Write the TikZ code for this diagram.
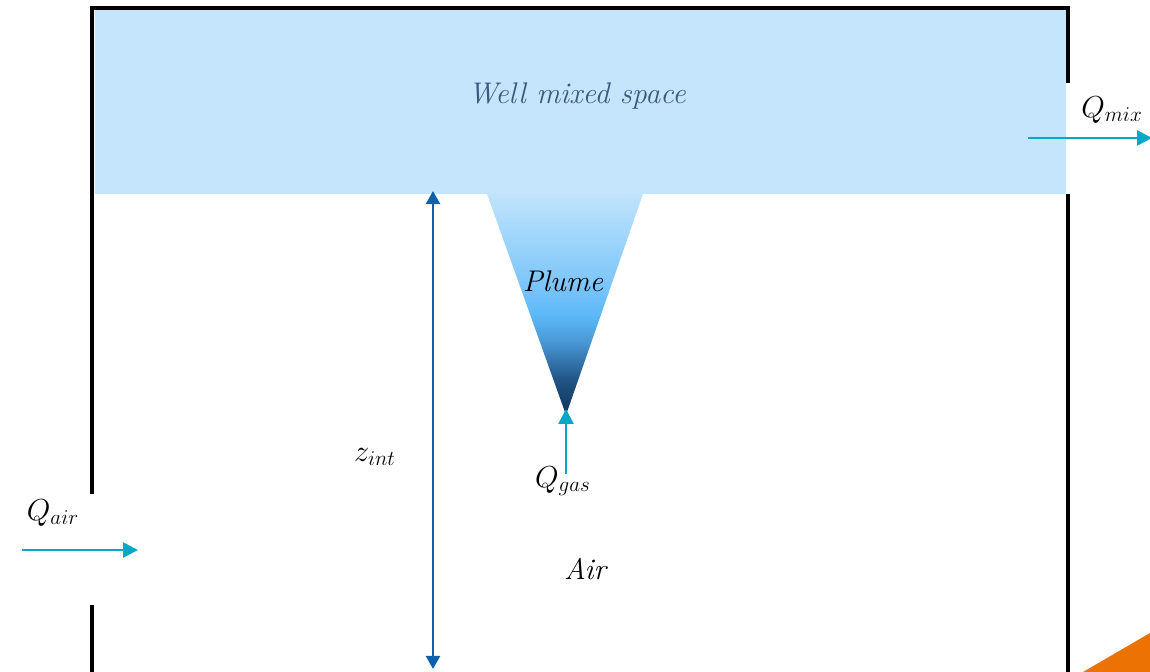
\documentclass[tikz,border=0pt]{standalone}
\usepackage{amsmath}
\usetikzlibrary{arrows.meta}
\definecolor{mixed}{RGB}{197,229,252}
\definecolor{flow}{RGB}{8,166,200}
\definecolor{height}{RGB}{12,98,170}
\definecolor{mixtext}{RGB}{58,88,125}
\definecolor{corner}{RGB}{236,114,4}
\pgfdeclareverticalshading{plumeshade}{100bp}{%
  color(0bp)=(rgb,255:red,12;green,52;blue,89);
  color(25bp)=(rgb,255:red,12;green,52;blue,89);
  color(33bp)=(rgb,255:red,32;green,85;blue,133);
  color(37.5bp)=(rgb,255:red,54;green,119;blue,176);
  color(42bp)=(rgb,255:red,74;green,155;blue,216);
  color(47.5bp)=(rgb,255:red,92;green,184;blue,248);
  color(55bp)=(rgb,255:red,126;green,198;blue,250);
  color(75bp)=(rgb,255:red,192;green,228;blue,251);
  color(100bp)=(rgb,255:red,192;green,228;blue,251)}

\begin{document}
\begin{tikzpicture}[
    x=0.02cm, y=-0.02cm,
    every node/.style={font=\fontsize{17}{20}\selectfont},
    wall/.style={line width=1.8pt, black},
    flowarrow/.style={-{Triangle[length=8.5pt, width=8.5pt]}, line width=1.5pt, color=flow},
    heightarrow/.style={{Triangle[length=7.5pt, width=8pt]}-{Triangle[length=7.5pt, width=8pt]}, line width=1.5pt, color=height},
]
\useasboundingbox (0,0) rectangle (1150,672);

% well mixed upper layer and plume
\fill[mixed] (95,9) rectangle (1066,194);
\shade[shading=plumeshade] (487,194) -- (643,194) -- (566,415) -- cycle;

% room walls (openings at the inlet and the outlet)
\draw[wall] (92,494) -- (92,8) -- (1068,8) -- (1068,83);
\draw[wall] (92,605) -- (92,672);
\draw[wall] (1068,194) -- (1068,672);

% corner mark
\fill[corner] (1083,672) -- (1150,633) -- (1150,672) -- cycle;

% text
\node[text=mixtext] (mix) at (577,96) {\itshape Well mixed space};
\node (plume) at (563,281) {\itshape Plume};
\node (air) at (585,569) {\itshape Air};

% flows
\coordinate (airin) at (22,550);
\coordinate (airend) at (138,550);
\coordinate (mixin) at (1028,138);
\coordinate (mixout) at (1152,138);
\coordinate (source) at (566,474);
\coordinate (apex) at (566,409);
\coordinate (ztop) at (433,191);
\coordinate (zbot) at (433,669);

\draw[flowarrow] (airin) -- (airend);
\draw[flowarrow] (mixin) -- (mixout);
\draw[flowarrow] (source) -- (apex);
\draw[heightarrow] (zbot) -- (ztop);

% flow labels
\node (qair) at (53,513) {$Q_{air}$};
\node (qmix) at (1112,110) {$Q_{mix}$};
\node (qgas) at (563,481) {$Q_{gas}$};
\node (zint) at (375,457) {$z_{int}$};

\end{tikzpicture}
\end{document}
